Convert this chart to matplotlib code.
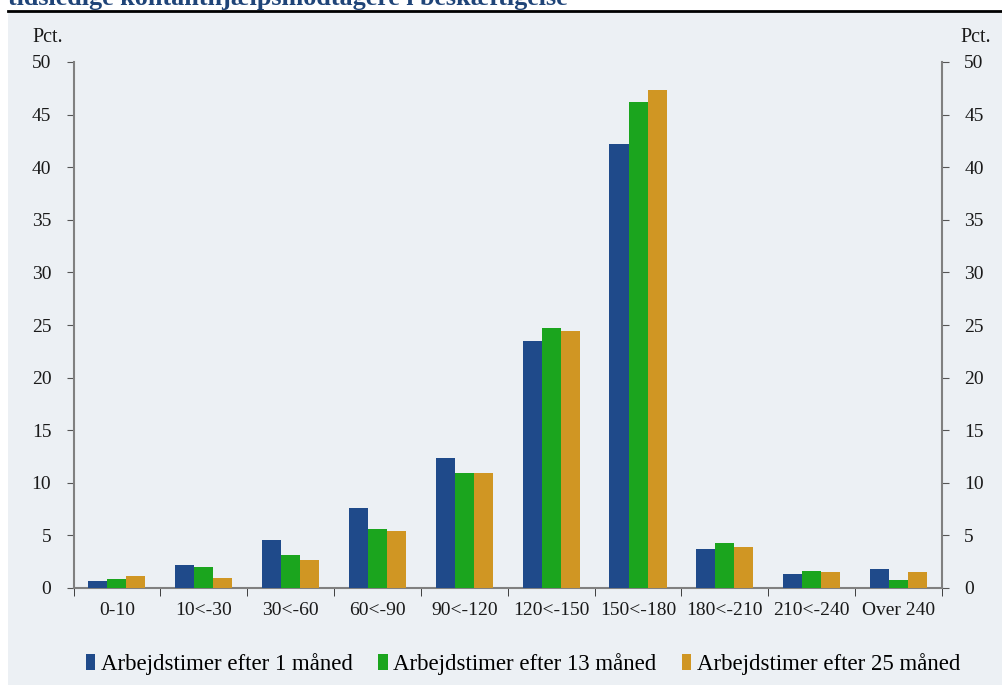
import matplotlib
matplotlib.use("Agg")
import matplotlib.pyplot as plt
import numpy as np
from matplotlib.lines import Line2D

categories = ["0-10", "10<-30", "30<-60", "60<-90", "90<-120", "120<-150",
              "150<-180", "180<-210", "210<-240", "Over 240"]
series_names = ["Arbejdstimer efter 1 måned", "Arbejdstimer efter 13 måned",
                "Arbejdstimer efter 25 måned"]
m1 = [0.7, 2.15, 4.6, 7.6, 12.4, 23.5, 42.2, 3.7, 1.3, 1.8]
m13 = [0.85, 1.95, 3.15, 5.65, 10.9, 24.7, 46.2, 4.25, 1.6, 0.75]
m25 = [1.1, 0.95, 2.65, 5.45, 10.9, 24.45, 47.3, 3.9, 1.5, 1.5]
yticks = [0, 5, 10, 15, 20, 25, 30, 35, 40, 45, 50]
title = "tidsledige kontanthjælpsmodtagere i beskæftigelse"

colors = ["#1F4A8A", "#1BA51E", "#D09623"]
bg = "#ECF0F4"
font = ["Liberation Serif", "DejaVu Serif"]
plt.rcParams["font.family"] = font

fig = plt.figure(figsize=(10.02, 6.85), dpi=100)
fig.patch.set_facecolor("white")
# light background panel
fig.patches.append(plt.Rectangle((8 / 1002, 0), 1 - 8 / 1002, 1 - 11 / 685,
                                 transform=fig.transFigure, facecolor=bg,
                                 edgecolor="none", zorder=-10))
fig.add_artist(Line2D([8 / 1002, 1], [1 - 11 / 685, 1 - 11 / 685],
                      transform=fig.transFigure, color="black", lw=2))
fig.text(8 / 1002, 1 - 5 / 685, title, fontsize=18.8, fontweight="bold",
         color="#1F4478", ha="left", va="baseline")

ax = fig.add_axes([73.5 / 1002, 1 - 588 / 685, (942 - 73.5) / 1002, (588 - 62) / 685])
ax.set_zorder(5)
ax.set_facecolor("none")
x = np.arange(len(categories))
w = 0.219
for i, (vals, c) in enumerate(zip([m1, m13, m25], colors)):
    ax.bar(x + (i - 1) * w, vals, width=w, color=c, linewidth=0, zorder=3,
           label=series_names[i])

ax.set_xlim(-0.5, len(categories) - 0.5)
ax.set_ylim(0, 50)
ax.set_yticks(yticks)
ax.tick_params(axis="y", which="both", left=True, right=True, labelleft=True,
               labelright=True, direction="out", length=5, color="#555555",
               labelsize=14, pad=11, labelcolor="#1a1a1a")
ax.set_xticks(x)
ax.set_xticklabels(categories, fontsize=14, color="#1a1a1a")
ax.tick_params(axis="x", which="major", length=0, pad=10)
ax.set_xticks(np.arange(-0.5, len(categories), 1), minor=True)
ax.tick_params(axis="x", which="minor", length=6, direction="out", color="#222222")
ax.spines["top"].set_visible(False)
for s in ["left", "right", "bottom"]:
    ax.spines[s].set_color("#808080")
    ax.spines[s].set_linewidth(1.5)

fig.text(32 / 1002, 1 - 38 / 685, "Pct.", fontsize=14.5, ha="left", va="center", color="#1a1a1a")
fig.text(991 / 1002, 1 - 38 / 685, "Pct.", fontsize=14.5, ha="right", va="center", color="#1a1a1a")

handles = [plt.Rectangle((0, 0), 1, 1, facecolor=c, edgecolor="none") for c in colors]
leg = fig.legend(handles, series_names, loc="center", bbox_to_anchor=(523 / 1002, 1 - 664 / 685),
                 ncol=3, frameon=False, fontsize=16.5, handlelength=0.42, handleheight=0.75,
                 handletextpad=0.25, columnspacing=1.1)

fig.savefig("out.png", dpi=100, facecolor=fig.get_facecolor())
